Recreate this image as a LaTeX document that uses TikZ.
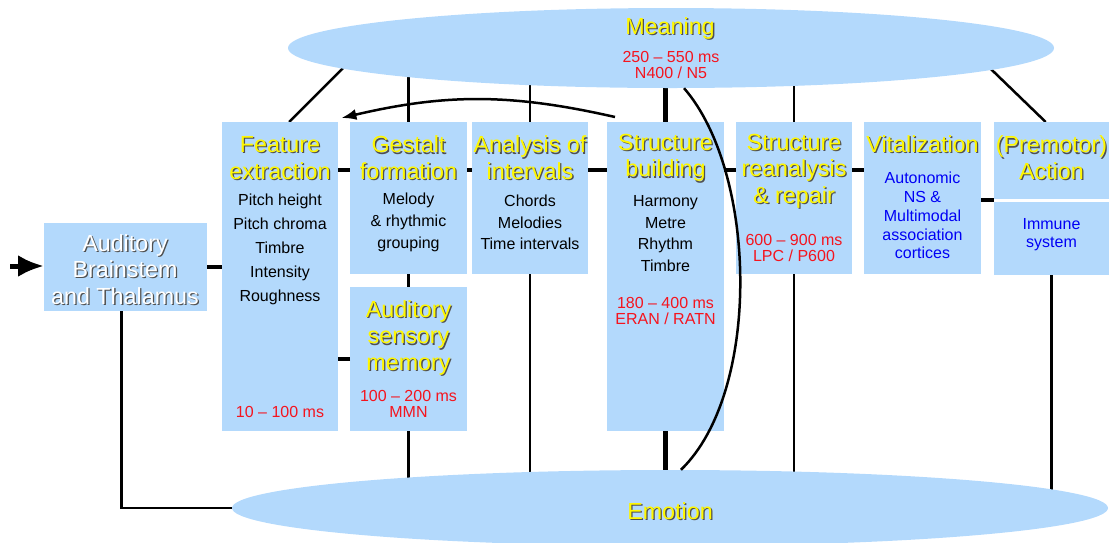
\documentclass[tikz,border=0pt]{standalone}
\usepackage{fontspec}
\setmainfont{Liberation Sans}
\usetikzlibrary{shapes.geometric,arrows.meta,backgrounds}

\definecolor{boxblue}{RGB}{179,217,252}
\definecolor{ttlyellow}{RGB}{255,247,0}
\definecolor{dropgray}{RGB}{80,80,80}
\definecolor{msred}{RGB}{245,20,30}
\definecolor{sysblue}{RGB}{0,0,245}

% text with a small drop shadow
\newcommand\shd[1]{\rlap{\kern1.3pt\raisebox{-1.3pt}{\textcolor{dropgray}{#1}}}#1}

\begin{document}
\begin{tikzpicture}[x=1pt, y=1pt,
  box/.style={fill=boxblue, inner sep=0pt, anchor=north west},
  oval/.style={ellipse, fill=boxblue, inner sep=0pt},
  ttl/.style={text=ttlyellow, align=center, yshift=-2pt, font=\fontsize{23.3}{26.5}\selectfont},
  plain/.style={align=center, font=\fontsize{16}{21.7}\selectfont},
  ms/.style={text=msred, align=center, font=\fontsize{16}{16.5}\selectfont},
  sys/.style={text=sysblue, align=center, font=\fontsize{16}{18.8}\selectfont},
  link/.style={line width=2.5pt},
  chain/.style={line width=4pt},
  spine/.style={line width=5pt}]
\useasboundingbox (0,0) rectangle (1109,-542);

% ellipses
\node[oval, minimum width=766pt, minimum height=80pt] (mean) at (671,-48) {};
\node[oval, minimum width=876pt, minimum height=76pt] (emo) at (670,-508) {};

% boxes
\node[box, minimum width=163pt, minimum height=88pt] (bs) at (44,-223) {};
\node[box, minimum width=116pt, minimum height=309pt] (fe) at (222,-122) {};
\node[box, minimum width=117pt, minimum height=152pt] (gf) at (350,-122) {};
\node[box, minimum width=117pt, minimum height=144pt] (asm) at (350,-287) {};
\node[box, minimum width=116pt, minimum height=152pt] (ai) at (472,-122) {};
\node[box, minimum width=117pt, minimum height=309pt] (sb) at (607,-122) {};
\node[box, minimum width=116pt, minimum height=152pt] (sr) at (736,-122) {};
\node[box, minimum width=117pt, minimum height=152pt] (vi) at (864,-122) {};
\node[box, minimum width=115pt, minimum height=77pt] (pa) at (994,-122) {};
\node[box, minimum width=115pt, minimum height=73pt] (im) at (994,-202) {};

% texts
\node[ttl, text=white] (bsT) at (125,-268) {\shd{Auditory}\\\shd{Brainstem}\\\shd{and Thalamus}};
\node[ttl] (feT) at (280,-156.5) {\shd{Feature}\\\shd{extraction}};
\node[plain, font=\fontsize{16}{24}\selectfont] (feB) at (280,-249) {Pitch height\\Pitch chroma\\Timbre\\Intensity\\Roughness};
\node[ms] (feM) at (280,-412) {10 – 100 ms};
\node[ttl] (gfT) at (408.5,-156.5) {\shd{Gestalt}\\\shd{formation}};
\node[plain] (gfB) at (408.5,-222.5) {Melody\\\& rhythmic\\grouping};
\node[ttl] (asmT) at (408.5,-336.5) {\shd{Auditory}\\\shd{sensory}\\\shd{memory}};
\node[ms] (asmM) at (408.5,-404) {100 – 200 ms\\MMN};
\node[ttl] (aiT) at (530,-156.5) {\shd{Analysis of}\\\shd{intervals}};
\node[plain] (aiB) at (530,-222.5) {Chords\\Melodies\\Time intervals};
\node[ttl] (sbT) at (665.5,-156.5) {\shd{Structure}\\\shd{building}};
\node[plain] (sbB) at (665.5,-233.5) {Harmony\\Metre\\Rhythm\\Timbre};
\node[ms] (sbM) at (665.5,-311) {180 – 400 ms\\ERAN / RATN};
\node[ttl] (srT) at (794,-169.5) {\shd{Structure}\\\shd{reanalysis}\\\shd{\& repair}};
\node[ms] (srM) at (794,-248) {600 – 900 ms\\LPC / P600};
\node[ttl] (viT) at (922.5,-143) {\shd{Vitalization}};
\node[sys] (viB) at (922.5,-215.5) {Autonomic\\NS \&\\Multimodal\\association\\cortices};
\node[ttl] (paT) at (1051.5,-156.5) {\shd{(Premotor)}\\\shd{Action}};
\node[sys, font=\fontsize{16}{18}\selectfont] (imB) at (1051.5,-235) {Immune\\system};
\node[ttl] (meT) at (670,-27) {\shd{Meaning}};
\node[ms] (meM) at (671,-65) {250 – 550 ms\\N400 / N5};
\node[ttl] (emT) at (670,-510) {\shd{Emotion}};

\coordinate (src) at (10,-266);
\coordinate (rowA) at (0,-170);
\coordinate (rowB) at (0,-200);

\begin{scope}[on background layer]
\draw[link] ([xshift=9pt]fe.north) -- ++(60,60);
\draw[link] ([xshift=-6pt]pa.north) -- ++(-60,58);
\draw[link] (gf.north) -- (gf.north |- mean);
\draw[link] (ai.north) -- (ai.north |- mean);
\draw[spine] (sb.north) -- (sb.north |- mean);
\draw[link] (sr.north) -- (sr.north |- mean);
\draw[link] (asm.south) -- (asm.south |- emo);
\draw[link] (ai.south) -- (ai.south |- emo);
\draw[spine] (sb.south) -- (sb.south |- emo);
\draw[link] (sr.south) -- (sr.south |- emo);
\draw[link] (im.south) -- (im.south |- emo);
\end{scope}

\draw[line width=5pt, -{Latex[length=26pt,width=22pt]}] (src) -- (src -| bs.west);
\draw[chain] (bs) -- (bs -| fe.west);
\draw[link] ([xshift=-4pt]bs.south) |- (emo.west);
\draw[chain] (fe.east |- rowA) -- (gf.west |- rowA);
\draw[chain] (gf.east |- rowA) -- (ai.west |- rowA);
\draw[chain] (ai.east |- rowA) -- (sb.west |- rowA);
\draw[chain] (sb.east |- rowA) -- (sr.west |- rowA);
\draw[chain] (sr.east |- rowA) -- (vi.west |- rowA);
\draw[chain] (vi.east |- rowB) -- (pa.west |- rowB);
\draw[chain] (asm) -- (asm -| fe.east);
\draw[link] (gf) -- (asm);
\draw[link] (mean.-72) to [out = -49, in = 44, looseness = 0.75] (emo.74);
\draw[link, -{Latex[length=15pt,width=11pt]}] ([xshift=8pt,yshift=5pt]sb.north west) to [bend right = 13] ([xshift=3pt,yshift=4pt]fe.north east);
\end{tikzpicture}
\end{document}
